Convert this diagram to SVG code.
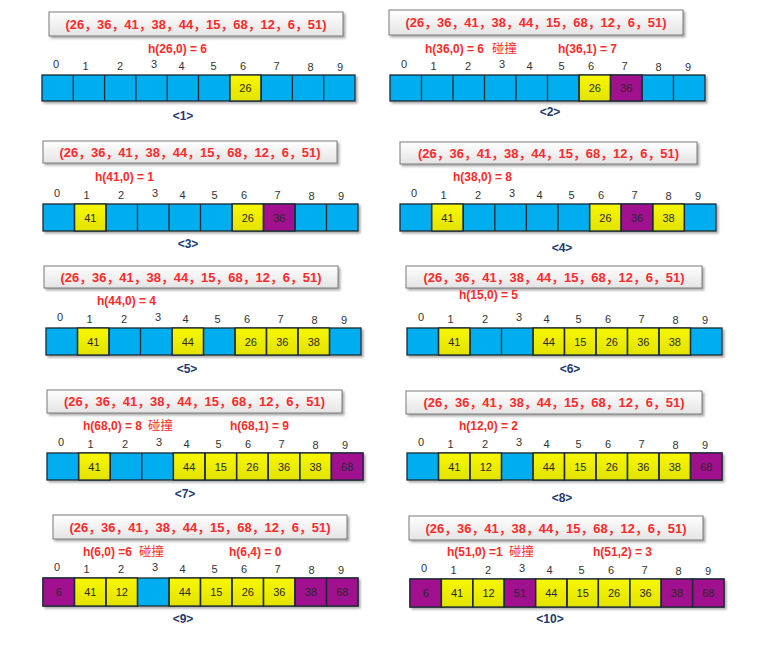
<svg xmlns="http://www.w3.org/2000/svg" width="776" height="657" viewBox="0 0 776 657">
<defs>
<linearGradient id="gBox" x1="0" y1="0" x2="0" y2="1"><stop offset="0" stop-color="#ffffff"/><stop offset="1" stop-color="#e4e4e4"/></linearGradient>
<linearGradient id="gY" x1="0" y1="0" x2="0" y2="1"><stop offset="0" stop-color="#f8f800"/><stop offset="1" stop-color="#e2e200"/></linearGradient>
<filter id="sh" x="-5%" y="-20%" width="112%" height="150%"><feDropShadow dx="2" dy="2" stdDeviation="1.2" flood-color="#777" flood-opacity="0.6"/></filter>
<style>
.box{fill:url(#gBox);stroke:#7a7a7a;stroke-width:1;filter:url(#sh)}
.seq{font-family:"Liberation Sans","Noto Sans CJK SC",sans-serif;font-size:13px;font-weight:bold;fill:#ff2a2a;text-anchor:middle}
.h{font-family:"Liberation Sans",sans-serif;font-size:12px;font-weight:bold;fill:#ff2a2a}
.cz{font-family:"Noto Sans CJK SC",sans-serif;font-size:12.5px;fill:#ff2a2a}
.ix{font-family:"Liberation Sans",sans-serif;font-size:11px;fill:#333;text-anchor:middle}
.arr{fill:#00aeef;stroke:#1b2a33;stroke-width:1.3;filter:url(#sh)}
.y{fill:url(#gY);stroke:#1b2a33;stroke-width:1.3}
.p{fill:#a0108f;stroke:#1b2a33;stroke-width:1.3}
.dv{stroke:#1b2a33;stroke-width:1.3;fill:none}
.v{font-family:"Liberation Sans",sans-serif;font-size:11px;fill:#2a2a2a;text-anchor:middle}
.cap{font-family:"Liberation Sans",sans-serif;font-size:12px;font-weight:bold;fill:#1f3a6e;text-anchor:middle}
</style>
</defs>
<rect width="776" height="657" fill="#ffffff"/>

<g id="panel-1">
<rect class="box" x="49" y="12" width="294" height="24"/>
<text class="seq" x="196" y="28.5" textLength="261" lengthAdjust="spacingAndGlyphs">(26，36，41，38，44，15，68，12，6，51)</text>
<text class="h" x="148" y="53">h(26,0) = 6</text>
<text class="ix" x="56" y="68">0</text><text class="ix" x="85.5" y="70">1</text><text class="ix" x="120" y="70">2</text><text class="ix" x="154" y="68">3</text><text class="ix" x="181.5" y="70">4</text><text class="ix" x="213.5" y="70">5</text><text class="ix" x="243" y="70">6</text><text class="ix" x="276.5" y="70">7</text><text class="ix" x="310.5" y="71">8</text><text class="ix" x="340" y="71">9</text>
<rect class="arr" x="42" y="75" width="313" height="26"/>
<rect class="y" x="229.8" y="75" width="31.3" height="26"/>
<path class="dv" d="M73.3 75v26M104.6 75v26M135.9 75v26M167.2 75v26M198.5 75v26M229.8 75v26M261.1 75v26M292.4 75v26M323.7 75v26"/>
<text class="v" x="245.45" y="92">26</text>
<text class="cap" x="183" y="120">&lt;1&gt;</text>
</g>

<g id="panel-2">
<rect class="box" x="389" y="10" width="294" height="25"/>
<text class="seq" x="536" y="27" textLength="261" lengthAdjust="spacingAndGlyphs">(26，36，41，38，44，15，68，12，6，51)</text>
<text class="h" x="425" y="53">h(36,0) = 6</text>
<text class="cz" x="492" y="53">碰撞</text>
<text class="h" x="558" y="53">h(36,1) = 7</text>
<text class="ix" x="404" y="68">0</text><text class="ix" x="433.5" y="70">1</text><text class="ix" x="468" y="70">2</text><text class="ix" x="502" y="68">3</text><text class="ix" x="529.5" y="70">4</text><text class="ix" x="561.5" y="70">5</text><text class="ix" x="591" y="70">6</text><text class="ix" x="624.5" y="70">7</text><text class="ix" x="658.5" y="71">8</text><text class="ix" x="688" y="71">9</text>
<rect class="arr" x="390" y="75" width="315" height="26"/>
<rect class="y" x="579" y="75" width="31.5" height="26"/>
<rect class="p" x="610.5" y="75" width="31.5" height="26"/>
<path class="dv" d="M421.5 75v26M453 75v26M484.5 75v26M516 75v26M547.5 75v26M579 75v26M610.5 75v26M642 75v26M673.5 75v26"/>
<text class="v" x="594.75" y="92">26</text>
<text class="v" x="626.25" y="92">36</text>
<text class="cap" x="550" y="116">&lt;2&gt;</text>
</g>

<g id="panel-3">
<rect class="box" x="43" y="141" width="294" height="22"/>
<text class="seq" x="190" y="156.5" textLength="261" lengthAdjust="spacingAndGlyphs">(26，36，41，38，44，15，68，12，6，51)</text>
<text class="h" x="95" y="181">h(41,0) = 1</text>
<text class="ix" x="57" y="197">0</text><text class="ix" x="86.5" y="199">1</text><text class="ix" x="121" y="199">2</text><text class="ix" x="155" y="197">3</text><text class="ix" x="182.5" y="199">4</text><text class="ix" x="214.5" y="199">5</text><text class="ix" x="244" y="199">6</text><text class="ix" x="277.5" y="199">7</text><text class="ix" x="311.5" y="200">8</text><text class="ix" x="341" y="200">9</text>
<rect class="arr" x="43" y="204" width="315" height="27"/>
<rect class="y" x="74.5" y="204" width="31.5" height="27"/>
<rect class="y" x="232" y="204" width="31.5" height="27"/>
<rect class="p" x="263.5" y="204" width="31.5" height="27"/>
<path class="dv" d="M74.5 204v27M106 204v27M137.5 204v27M169 204v27M200.5 204v27M232 204v27M263.5 204v27M295 204v27M326.5 204v27"/>
<text class="v" x="90.25" y="221.5">41</text>
<text class="v" x="247.75" y="221.5">26</text>
<text class="v" x="279.25" y="221.5">36</text>
<text class="cap" x="188" y="248">&lt;3&gt;</text>
</g>

<g id="panel-4">
<rect class="box" x="400" y="142" width="297" height="22"/>
<text class="seq" x="548.5" y="157.5" textLength="261" lengthAdjust="spacingAndGlyphs">(26，36，41，38，44，15，68，12，6，51)</text>
<text class="h" x="453" y="181">h(38,0) = 8</text>
<text class="ix" x="414" y="197">0</text><text class="ix" x="443.5" y="199">1</text><text class="ix" x="478" y="199">2</text><text class="ix" x="512" y="197">3</text><text class="ix" x="539.5" y="199">4</text><text class="ix" x="571.5" y="199">5</text><text class="ix" x="601" y="199">6</text><text class="ix" x="634.5" y="199">7</text><text class="ix" x="668.5" y="200">8</text><text class="ix" x="698" y="200">9</text>
<rect class="arr" x="400" y="204" width="316" height="27"/>
<rect class="y" x="431.6" y="204" width="31.6" height="27"/>
<rect class="y" x="589.6" y="204" width="31.6" height="27"/>
<rect class="p" x="621.2" y="204" width="31.6" height="27"/>
<rect class="y" x="652.8" y="204" width="31.6" height="27"/>
<path class="dv" d="M431.6 204v27M463.2 204v27M494.8 204v27M526.4 204v27M558 204v27M589.6 204v27M621.2 204v27M652.8 204v27M684.4 204v27"/>
<text class="v" x="447.4" y="221.5">41</text>
<text class="v" x="605.4" y="221.5">26</text>
<text class="v" x="637" y="221.5">36</text>
<text class="v" x="668.6" y="221.5">38</text>
<text class="cap" x="562" y="252">&lt;4&gt;</text>
</g>

<g id="panel-5">
<rect class="box" x="44" y="266" width="294" height="22"/>
<text class="seq" x="191" y="281.5" textLength="261" lengthAdjust="spacingAndGlyphs">(26，36，41，38，44，15，68，12，6，51)</text>
<text class="h" x="97" y="305">h(44,0) = 4</text>
<text class="ix" x="60" y="321">0</text><text class="ix" x="89.5" y="323">1</text><text class="ix" x="124" y="323">2</text><text class="ix" x="158" y="321">3</text><text class="ix" x="185.5" y="323">4</text><text class="ix" x="217.5" y="323">5</text><text class="ix" x="247" y="323">6</text><text class="ix" x="280.5" y="323">7</text><text class="ix" x="314.5" y="324">8</text><text class="ix" x="344" y="324">9</text>
<rect class="arr" x="46" y="328" width="315" height="27"/>
<rect class="y" x="77.5" y="328" width="31.5" height="27"/>
<rect class="y" x="172" y="328" width="31.5" height="27"/>
<rect class="y" x="235" y="328" width="31.5" height="27"/>
<rect class="y" x="266.5" y="328" width="31.5" height="27"/>
<rect class="y" x="298" y="328" width="31.5" height="27"/>
<path class="dv" d="M77.5 328v27M109 328v27M140.5 328v27M172 328v27M203.5 328v27M235 328v27M266.5 328v27M298 328v27M329.5 328v27"/>
<text class="v" x="93.25" y="345.5">41</text>
<text class="v" x="187.75" y="345.5">44</text>
<text class="v" x="250.75" y="345.5">26</text>
<text class="v" x="282.25" y="345.5">36</text>
<text class="v" x="313.75" y="345.5">38</text>
<text class="cap" x="187" y="373">&lt;5&gt;</text>
</g>

<g id="panel-6">
<rect class="box" x="406" y="266" width="296" height="22"/>
<text class="seq" x="554" y="281.5" textLength="261" lengthAdjust="spacingAndGlyphs">(26，36，41，38，44，15，68，12，6，51)</text>
<text class="h" x="459" y="299">h(15,0) = 5</text>
<text class="ix" x="421" y="321">0</text><text class="ix" x="450.5" y="323">1</text><text class="ix" x="485" y="323">2</text><text class="ix" x="519" y="321">3</text><text class="ix" x="546.5" y="323">4</text><text class="ix" x="578.5" y="323">5</text><text class="ix" x="608" y="323">6</text><text class="ix" x="641.5" y="323">7</text><text class="ix" x="675.5" y="324">8</text><text class="ix" x="705" y="324">9</text>
<rect class="arr" x="407" y="328" width="315" height="27"/>
<rect class="y" x="438.5" y="328" width="31.5" height="27"/>
<rect class="y" x="533" y="328" width="31.5" height="27"/>
<rect class="y" x="564.5" y="328" width="31.5" height="27"/>
<rect class="y" x="596" y="328" width="31.5" height="27"/>
<rect class="y" x="627.5" y="328" width="31.5" height="27"/>
<rect class="y" x="659" y="328" width="31.5" height="27"/>
<path class="dv" d="M438.5 328v27M470 328v27M501.5 328v27M533 328v27M564.5 328v27M596 328v27M627.5 328v27M659 328v27M690.5 328v27"/>
<text class="v" x="454.25" y="345.5">41</text>
<text class="v" x="548.75" y="345.5">44</text>
<text class="v" x="580.25" y="345.5">15</text>
<text class="v" x="611.75" y="345.5">26</text>
<text class="v" x="643.25" y="345.5">36</text>
<text class="v" x="674.75" y="345.5">38</text>
<text class="cap" x="570" y="373">&lt;6&gt;</text>
</g>

<g id="panel-7">
<rect class="box" x="47" y="390" width="295" height="23"/>
<text class="seq" x="194.5" y="406" textLength="261" lengthAdjust="spacingAndGlyphs">(26，36，41，38，44，15，68，12，6，51)</text>
<text class="h" x="83" y="430">h(68,0) = 8</text>
<text class="cz" x="148" y="430">碰撞</text>
<text class="h" x="230" y="430">h(68,1) = 9</text>
<text class="ix" x="61" y="446">0</text><text class="ix" x="90.5" y="448">1</text><text class="ix" x="125" y="448">2</text><text class="ix" x="159" y="446">3</text><text class="ix" x="186.5" y="448">4</text><text class="ix" x="218.5" y="448">5</text><text class="ix" x="248" y="448">6</text><text class="ix" x="281.5" y="448">7</text><text class="ix" x="315.5" y="449">8</text><text class="ix" x="345" y="449">9</text>
<rect class="arr" x="47" y="453" width="316" height="27"/>
<rect class="y" x="78.6" y="453" width="31.6" height="27"/>
<rect class="y" x="173.4" y="453" width="31.6" height="27"/>
<rect class="y" x="205" y="453" width="31.6" height="27"/>
<rect class="y" x="236.6" y="453" width="31.6" height="27"/>
<rect class="y" x="268.2" y="453" width="31.6" height="27"/>
<rect class="y" x="299.8" y="453" width="31.6" height="27"/>
<rect class="p" x="331.4" y="453" width="31.6" height="27"/>
<path class="dv" d="M78.6 453v27M110.2 453v27M141.8 453v27M173.4 453v27M205 453v27M236.6 453v27M268.2 453v27M299.8 453v27M331.4 453v27"/>
<text class="v" x="94.4" y="470.5">41</text>
<text class="v" x="189.2" y="470.5">44</text>
<text class="v" x="220.8" y="470.5">15</text>
<text class="v" x="252.4" y="470.5">26</text>
<text class="v" x="284" y="470.5">36</text>
<text class="v" x="315.6" y="470.5">38</text>
<text class="v" x="347.2" y="470.5">68</text>
<text class="cap" x="185" y="498">&lt;7&gt;</text>
</g>

<g id="panel-8">
<rect class="box" x="406" y="391" width="296" height="23"/>
<text class="seq" x="554" y="407" textLength="261" lengthAdjust="spacingAndGlyphs">(26，36，41，38，44，15，68，12，6，51)</text>
<text class="h" x="459" y="430">h(12,0) = 2</text>
<text class="ix" x="421" y="446">0</text><text class="ix" x="450.5" y="448">1</text><text class="ix" x="485" y="448">2</text><text class="ix" x="519" y="446">3</text><text class="ix" x="546.5" y="448">4</text><text class="ix" x="578.5" y="448">5</text><text class="ix" x="608" y="448">6</text><text class="ix" x="641.5" y="448">7</text><text class="ix" x="675.5" y="449">8</text><text class="ix" x="705" y="449">9</text>
<rect class="arr" x="407" y="453" width="315" height="27"/>
<rect class="y" x="438.5" y="453" width="31.5" height="27"/>
<rect class="y" x="470" y="453" width="31.5" height="27"/>
<rect class="y" x="533" y="453" width="31.5" height="27"/>
<rect class="y" x="564.5" y="453" width="31.5" height="27"/>
<rect class="y" x="596" y="453" width="31.5" height="27"/>
<rect class="y" x="627.5" y="453" width="31.5" height="27"/>
<rect class="y" x="659" y="453" width="31.5" height="27"/>
<rect class="p" x="690.5" y="453" width="31.5" height="27"/>
<path class="dv" d="M438.5 453v27M470 453v27M501.5 453v27M533 453v27M564.5 453v27M596 453v27M627.5 453v27M659 453v27M690.5 453v27"/>
<text class="v" x="454.25" y="470.5">41</text>
<text class="v" x="485.75" y="470.5">12</text>
<text class="v" x="548.75" y="470.5">44</text>
<text class="v" x="580.25" y="470.5">15</text>
<text class="v" x="611.75" y="470.5">26</text>
<text class="v" x="643.25" y="470.5">36</text>
<text class="v" x="674.75" y="470.5">38</text>
<text class="v" x="706.25" y="470.5">68</text>
<text class="cap" x="562" y="502">&lt;8&gt;</text>
</g>

<g id="panel-9">
<rect class="box" x="53" y="515" width="294" height="24"/>
<text class="seq" x="200" y="531.5" textLength="261" lengthAdjust="spacingAndGlyphs">(26，36，41，38，44，15，68，12，6，51)</text>
<text class="h" x="83" y="556">h(6,0) =6</text>
<text class="cz" x="139" y="556">碰撞</text>
<text class="h" x="229" y="556">h(6,4) = 0</text>
<text class="ix" x="57" y="571">0</text><text class="ix" x="86.5" y="573">1</text><text class="ix" x="121" y="573">2</text><text class="ix" x="155" y="571">3</text><text class="ix" x="182.5" y="573">4</text><text class="ix" x="214.5" y="573">5</text><text class="ix" x="244" y="573">6</text><text class="ix" x="277.5" y="573">7</text><text class="ix" x="311.5" y="574">8</text><text class="ix" x="341" y="574">9</text>
<rect class="arr" x="43" y="578" width="315" height="28"/>
<rect class="p" x="43" y="578" width="31.5" height="28"/>
<rect class="y" x="74.5" y="578" width="31.5" height="28"/>
<rect class="y" x="106" y="578" width="31.5" height="28"/>
<rect class="y" x="169" y="578" width="31.5" height="28"/>
<rect class="y" x="200.5" y="578" width="31.5" height="28"/>
<rect class="y" x="232" y="578" width="31.5" height="28"/>
<rect class="y" x="263.5" y="578" width="31.5" height="28"/>
<rect class="p" x="295" y="578" width="31.5" height="28"/>
<rect class="p" x="326.5" y="578" width="31.5" height="28"/>
<path class="dv" d="M74.5 578v28M106 578v28M137.5 578v28M169 578v28M200.5 578v28M232 578v28M263.5 578v28M295 578v28M326.5 578v28"/>
<text class="v" x="58.75" y="596">6</text>
<text class="v" x="90.25" y="596">41</text>
<text class="v" x="121.75" y="596">12</text>
<text class="v" x="184.75" y="596">44</text>
<text class="v" x="216.25" y="596">15</text>
<text class="v" x="247.75" y="596">26</text>
<text class="v" x="279.25" y="596">36</text>
<text class="v" x="310.75" y="596">38</text>
<text class="v" x="342.25" y="596">68</text>
<text class="cap" x="183" y="623">&lt;9&gt;</text>
</g>

<g id="panel-10">
<rect class="box" x="409" y="516" width="294" height="24"/>
<text class="seq" x="556" y="532.5" textLength="261" lengthAdjust="spacingAndGlyphs">(26，36，41，38，44，15，68，12，6，51)</text>
<text class="h" x="447" y="556">h(51,0) =1</text>
<text class="cz" x="509" y="556">碰撞</text>
<text class="h" x="593" y="556">h(51,2) = 3</text>
<text class="ix" x="424" y="572">0</text><text class="ix" x="453.5" y="574">1</text><text class="ix" x="488" y="574">2</text><text class="ix" x="522" y="572">3</text><text class="ix" x="549.5" y="574">4</text><text class="ix" x="581.5" y="574">5</text><text class="ix" x="611" y="574">6</text><text class="ix" x="644.5" y="574">7</text><text class="ix" x="678.5" y="575">8</text><text class="ix" x="708" y="575">9</text>
<rect class="arr" x="410" y="579" width="314" height="28"/>
<rect class="p" x="410" y="579" width="31.4" height="28"/>
<rect class="y" x="441.4" y="579" width="31.4" height="28"/>
<rect class="y" x="472.8" y="579" width="31.4" height="28"/>
<rect class="p" x="504.2" y="579" width="31.4" height="28"/>
<rect class="y" x="535.6" y="579" width="31.4" height="28"/>
<rect class="y" x="567" y="579" width="31.4" height="28"/>
<rect class="y" x="598.4" y="579" width="31.4" height="28"/>
<rect class="y" x="629.8" y="579" width="31.4" height="28"/>
<rect class="p" x="661.2" y="579" width="31.4" height="28"/>
<rect class="p" x="692.6" y="579" width="31.4" height="28"/>
<path class="dv" d="M441.4 579v28M472.8 579v28M504.2 579v28M535.6 579v28M567 579v28M598.4 579v28M629.8 579v28M661.2 579v28M692.6 579v28"/>
<text class="v" x="425.7" y="597">6</text>
<text class="v" x="457.1" y="597">41</text>
<text class="v" x="488.5" y="597">12</text>
<text class="v" x="519.9" y="597">51</text>
<text class="v" x="551.3" y="597">44</text>
<text class="v" x="582.7" y="597">15</text>
<text class="v" x="614.1" y="597">26</text>
<text class="v" x="645.5" y="597">36</text>
<text class="v" x="676.9" y="597">38</text>
<text class="v" x="708.3" y="597">68</text>
<text class="cap" x="550" y="623">&lt;10&gt;</text>
</g>

<g id="connectors"></g>
</svg>
